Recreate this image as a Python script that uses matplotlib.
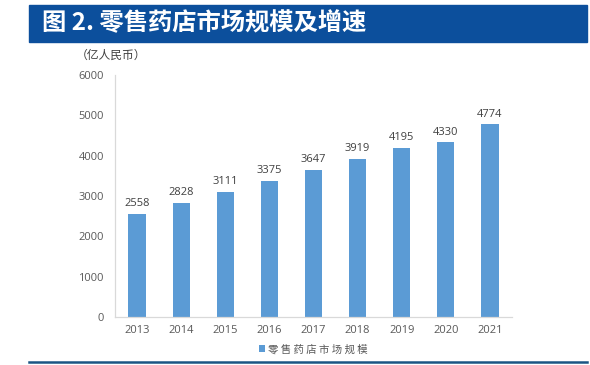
import matplotlib.pyplot as plt
from matplotlib.patches import Rectangle
from matplotlib.lines import Line2D

plt.rcParams['font.family'] = ['Open Sans', 'Noto Sans CJK SC', 'DejaVu Sans']

years = ['2013', '2014', '2015', '2016', '2017', '2018', '2019', '2020', '2021']
market = [2558, 2828, 3111, 3375, 3647, 3919, 4195, 4330, 4774]
yticks = [0, 1000, 2000, 3000, 4000, 5000, 6000]

W, H = 590, 365
fig = plt.figure(figsize=(W / 100, H / 100), dpi=100)

# 标题栏
fig.patches.append(Rectangle((29 / W, 1 - 42 / H), 558 / W, 37 / H,
                             transform=fig.transFigure, color='#0c4f9c', zorder=0))
fig.text(42 / W, 1 - 23.5 / H, '图 2. 零售药店市场规模及增速', color='white',
         fontsize=17.5, fontweight='bold', va='center', ha='left',
         family=['Noto Sans CJK SC', 'DejaVu Sans'])
# 底部线
fig.lines.append(Line2D([29 / W, 587 / W], [1 - 362 / H, 1 - 362 / H],
                        transform=fig.transFigure, color='#1a5584', linewidth=1.8))

fig.text(76 / W, 1 - 55 / H, '（亿人民币）', color='#404040', fontsize=8.5,
         va='center', ha='left', family=['Noto Sans CJK SC', 'DejaVu Sans'])

ax = fig.add_axes([115 / W, 1 - 317 / H, 397 / W, 242 / H])
x = range(len(years))
bars = ax.bar(x, market, width=0.39, color='#5b9bd5', label='零售药店市场规模')
for xi, v in zip(x, market):
    ax.text(xi, v + 120, str(v), ha='center', va='bottom', fontsize=8, color='#404040')

ax.set_xlim(-0.5, len(years) - 0.5)
ax.set_ylim(0, 6000)
ax.set_yticks(yticks)
ax.set_xticks(list(x))
ax.set_xticklabels(years)
ax.tick_params(length=0, labelsize=8, labelcolor='#595959', pad=8)
ax.tick_params(axis='x', pad=6)
for s in ['top', 'right']:
    ax.spines[s].set_visible(False)
for s in ['left', 'bottom']:
    ax.spines[s].set_color('#d9d9d9')
    ax.spines[s].set_linewidth(0.9)

leg = fig.legend(handles=[bars], labels=['零 售 药 店 市 场 规 模'], loc='center',
                 bbox_to_anchor=(313 / W, 1 - 349 / H), frameon=False,
                 handlelength=0.6, handleheight=0.6, handletextpad=0.3,
                 prop={'family': ['Noto Sans CJK SC'], 'size': 7.5})
for t in leg.get_texts():
    t.set_color('#595959')

fig.savefig('out.png', dpi=100)
